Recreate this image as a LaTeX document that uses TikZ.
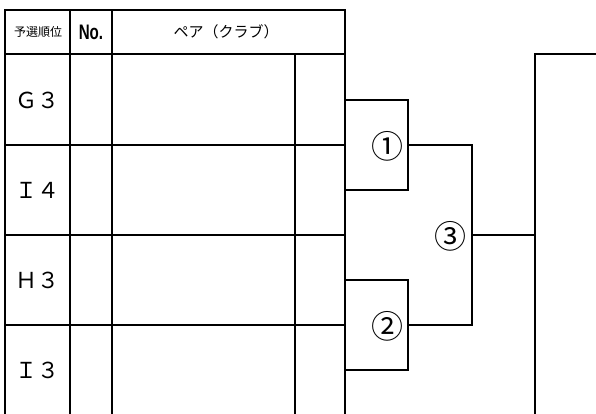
\documentclass[tikz,border=0pt]{standalone}
\usepackage{fontspec}
\setmainfont{Noto Sans CJK JP}
\newfontfamily\nofont{Liberation Sans}
\usepackage{tikz}
\usetikzlibrary{calc, positioning}

\begin{document}
\begin{tikzpicture}[x=1pt, y=-1pt, line width=1.6pt,
    seed/.style={font=\fontsize{22}{22}\selectfont, inner sep=0pt},
    mnum/.style={font=\fontsize{32}{32}\selectfont, inner sep=0pt, anchor=east},
    head/.style={inner sep=0pt}]
    \useasboundingbox (0,0) rectangle (596,414);
    % Khung bảng
    \draw (5,414) -- (5,10) -- (345,10) -- (345,414);
    \draw (5,54) -- (345,54);
    \foreach \y in {145,235,325} {
        \draw (5,\y) -- (345,\y);
    }
    \foreach \x in {70,112} {
        \draw (\x,10) -- (\x,414);
    }
    \draw (295,54) -- (295,414);
    
    % Tiêu đề cột
    \node[head, font=\fontsize{12}{12}\selectfont] (hrank) at (38,32) {予選順位};
    \node[head] (hno) at (91,32) {\scalebox{0.72}[1]{\nofont\bfseries\fontsize{21}{21}\selectfont No.}};
    \node[head, font=\fontsize{15}{15}\selectfont] (hpair) at (226,32) {ペア（クラブ）};
    
    % Thứ hạng vòng loại
    \foreach \s/\y/\n in {Ｇ３/100/s1, Ｉ４/190/s2, Ｈ３/280/s3, Ｉ３/370/s4} {
        \node[seed] (\n) at (38,\y) {\s};
    }
    
    % Sơ đồ nhánh đấu
    \coordinate (p1) at (345,100);
    \coordinate (p2) at (345,190);
    \coordinate (p3) at (345,280);
    \coordinate (p4) at (345,370);
    \coordinate (j1) at (408,145);
    \coordinate (j2) at (408,325);
    \coordinate (j3) at (472,235);
    \coordinate (f1) at (535,235);
    \node[mnum] (m1) at ($(j1)+(-4,1)$) {①};
    \node[mnum] (m2) at ($(j2)+(-4,1)$) {②};
    \node[mnum] (m3) at ($(j3)+(-5,1)$) {③};
    \draw (p1) -| (j1) |- (p2);
    \draw (p3) -| (j2) |- (p4);
    \draw (j1) -| (j3) |- (j2);
    \draw (j3) -- (f1);
    \draw (596,54) -- (535,54) -- (535,414);
\end{tikzpicture}
\end{document}
